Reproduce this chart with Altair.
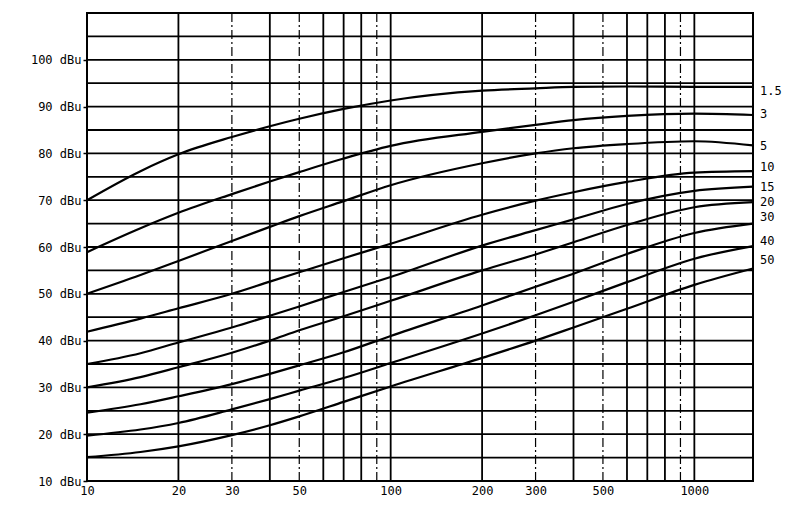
import altair as alt
import pandas as pd

# Frequency points (x, log scale) at which the curves were read
freq = [10, 15, 20, 30, 40, 50, 70, 100, 200, 300, 400, 600, 1000, 1560]

# Curve values (dBu) per series
c1_5 = [70.0, 76.2, 79.8, 83.5, 85.8, 87.4, 89.5, 91.3, 93.4, 93.9, 94.2, 94.3, 94.2, 94.2]
c3 = [58.9, 64.0, 67.3, 71.3, 74.0, 76.0, 78.9, 81.6, 84.6, 86.1, 87.1, 88.0, 88.5, 88.2]
c5 = [50.0, 54.0, 57.0, 61.3, 64.3, 66.6, 69.8, 73.2, 77.9, 80.0, 81.1, 82.0, 82.6, 81.7]
c10 = [41.9, 44.7, 46.9, 50.0, 52.6, 54.6, 57.6, 60.7, 66.9, 69.9, 71.7, 73.9, 75.9, 76.2]
c15 = [35.0, 37.3, 39.6, 42.8, 45.3, 47.3, 50.4, 53.6, 60.3, 63.6, 65.9, 69.2, 72.0, 72.9]
c20 = [30.0, 32.2, 34.3, 37.4, 40.0, 42.2, 45.2, 48.5, 55.0, 58.4, 61.0, 64.7, 68.5, 69.6]
c30 = [24.6, 26.4, 28.1, 30.7, 32.9, 34.7, 37.5, 41.0, 47.5, 51.5, 54.3, 58.5, 63.0, 65.0]
c40 = [19.7, 21.0, 22.4, 25.3, 27.5, 29.3, 32.0, 35.2, 41.5, 45.4, 48.3, 52.5, 57.5, 60.2]
c50 = [15.1, 16.2, 17.4, 19.8, 21.9, 23.8, 26.9, 30.2, 36.3, 40.0, 42.8, 46.8, 51.9, 55.4]

series_names = ["1.5", "3", "5", "10", "15", "20", "30", "40", "50"]
series_vals = [c1_5, c3, c5, c10, c15, c20, c30, c40, c50]
label_y = [93.3, 88.4, 81.6, 77.2, 72.9, 69.7, 66.5, 61.3, 57.2]

# Tick / grid values
x_labels = [10, 20, 30, 50, 100, 200, 300, 500, 1000]
y_labels = [10, 20, 30, 40, 50, 60, 70, 80, 90, 100]
h_grid = [15, 20, 25, 30, 35, 40, 45, 50, 55, 60, 65, 70, 75, 80, 85, 90, 95, 100, 105]
v_solid = [20, 40, 60, 70, 80, 100, 200, 400, 600, 700, 800, 1000]
v_dashed = [30, 50, 90, 300, 500, 900]

X_MIN, X_MAX = 10, 1560
Y_MIN, Y_MAX = 10, 110

rows = []
for name, vals in zip(series_names, series_vals):
    for f, v in zip(freq, vals):
        rows.append({"series": name, "freq": f, "dbu": v})
df = pd.DataFrame(rows)

lab_df = pd.DataFrame({"series": series_names, "ly": label_y, "lx": [X_MAX] * len(series_names)})

FONT = "DejaVu Sans Mono"

xscale = alt.Scale(type="log", domain=[X_MIN, X_MAX], nice=False)
yscale = alt.Scale(domain=[Y_MIN, Y_MAX], nice=False)

xax = alt.Axis(values=x_labels, ticks=False, domain=False, grid=False, labelFont=FONT,
               labelFontSize=12, labelColor="black", labelPadding=4, labelFlush=False,
               title=None, format="d")
yax = alt.Axis(values=y_labels, tickSize=4, tickColor="black", tickWidth=1.5, domain=False,
               grid=False, labelFont=FONT, labelFontSize=12, labelColor="black",
               labelPadding=2, labelExpr="datum.value + ' dBu'", title=None)

hgrid = alt.Chart(pd.DataFrame({"y": h_grid})).mark_rule(color="black", strokeWidth=1.8).encode(
    y=alt.Y("y:Q", scale=yscale, axis=yax)
)
vsolid = alt.Chart(pd.DataFrame({"x": v_solid})).mark_rule(color="black", strokeWidth=1.8).encode(
    x=alt.X("x:Q", scale=xscale, axis=xax)
)
vdash = alt.Chart(pd.DataFrame({"x": v_dashed})).mark_rule(
    color="black", strokeWidth=1.2, strokeDash=[9, 3, 2, 3]
).encode(x=alt.X("x:Q", scale=xscale))

curves = alt.Chart(df).mark_line(color="black", strokeWidth=2.2, interpolate="monotone").encode(
    x=alt.X("freq:Q", scale=xscale),
    y=alt.Y("dbu:Q", scale=yscale),
    detail="series:N",
)

labels = alt.Chart(lab_df).mark_text(
    align="left", baseline="middle", dx=7, font=FONT, fontSize=12, color="black"
).encode(
    x=alt.X("lx:Q", scale=xscale),
    y=alt.Y("ly:Q", scale=yscale),
    text="series:N",
)

chart = alt.layer(hgrid, vsolid, vdash, curves, labels).properties(
    width=666,
    height=468,
    padding={"left": 79, "top": 5, "right": 39, "bottom": 35},
    autosize=alt.AutoSizeParams(type="none"),
    background="white",
).configure_view(stroke="black", strokeWidth=2)

chart.save("out.html", embed_options={"renderer": "svg", "actions": False})
